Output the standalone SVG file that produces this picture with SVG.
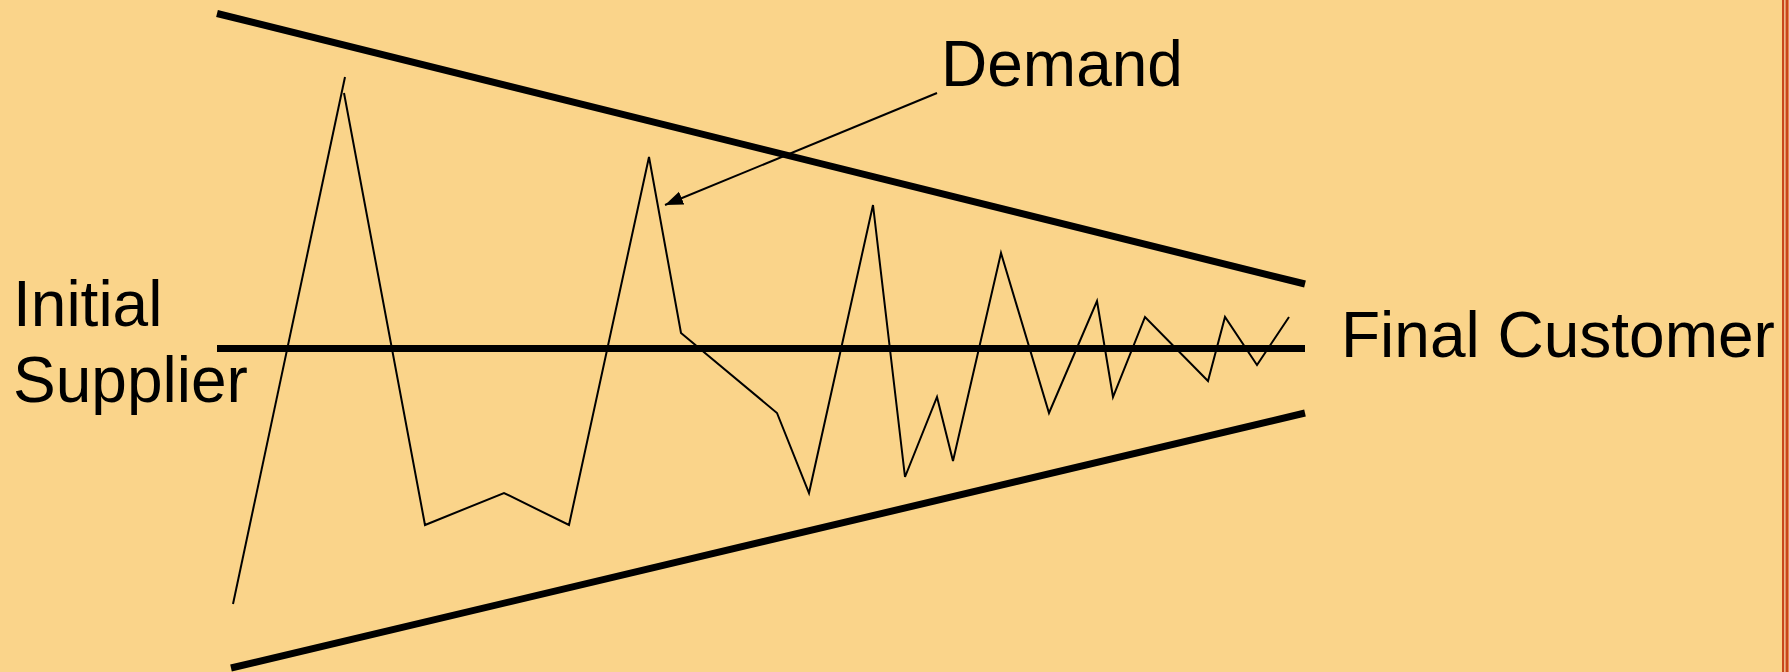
<svg xmlns="http://www.w3.org/2000/svg" width="1789" height="672" viewBox="0 0 1789 672">
<style>
.bound{stroke:#000;stroke-width:7;fill:none;stroke-linecap:butt}
.thin{stroke:#000;stroke-width:2;fill:none;stroke-linejoin:miter}
.lbl{font-family:"Liberation Sans",Arial,sans-serif;font-size:64px;fill:#000}
</style>
<defs>
<marker id="ah" markerUnits="userSpaceOnUse" markerWidth="20" markerHeight="16" viewBox="0 0 20 16" refX="18" refY="8" orient="auto">
<path d="M0,1 L18,8 L0,15 Z" fill="#000"/>
</marker>
</defs>
<rect width="1789" height="672" fill="#FAD48A"/>
<rect x="1782" y="0" width="2.5" height="672" fill="#C9461C"/>
<rect x="1784.5" y="0" width="1" height="672" fill="#F6E2C4"/>
<rect x="1785.5" y="0" width="3" height="672" fill="#C9461C"/>
<g id="boundaries">
<line class="bound" x1="217" y1="13.5" x2="1305" y2="284"/>
<line class="bound" x1="217" y1="348.5" x2="1305" y2="348.5"/>
<line class="bound" x1="231" y1="668" x2="1305" y2="413"/>
</g>
<g id="demand-curve">
<polyline class="thin" points="233,604 345,77"/>
<polyline class="thin" points="344,93 425,525 504,493 569,525 649,157 681,333 777,413 809,493 873,205 905,477 937,397 953,461 1001,253 1049,413 1097,301 1113,397 1145,317 1208,381 1225,317 1257,365 1289,317"/>
</g>
<g id="labels">
<text class="lbl" x="13" y="326">Initial</text>
<text class="lbl" x="13" y="402">Supplier</text>
<text class="lbl" x="941" y="86">Demand</text>
<text class="lbl" x="1341" y="357">Final Customer</text>
</g>
<g id="connectors">
<line x1="937" y1="93" x2="665" y2="205" stroke="#000" stroke-width="2" marker-end="url(#ah)"/>
</g>
</svg>
